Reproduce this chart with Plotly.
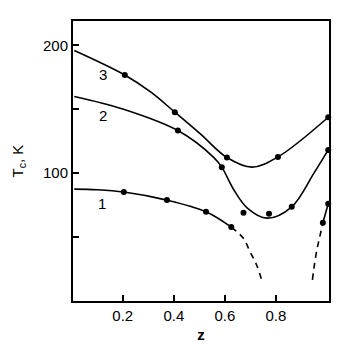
import plotly.graph_objects as go

# Curve lines (key points)
c3_x = [0.01, 0.208, 0.309, 0.404, 0.505, 0.608, 0.707, 0.808, 1.005]
c3_y = [196.0, 176.8, 163.5, 147.7, 130.5, 112.2, 104.7, 112.7, 143.7]

c2_x = [0.01, 0.2, 0.416, 0.557, 0.588, 0.635, 0.688, 0.765, 0.862, 0.949, 1.005]
c2_y = [160.0, 150.2, 133.3, 112.2, 104.7, 87.0, 72.7, 64.8, 73.7, 100.0, 118.2]

c1_solid_x = [0.01, 0.1, 0.204, 0.373, 0.526, 0.625]
c1_solid_y = [87.5, 87.0, 85.2, 78.9, 69.8, 57.8]
c1_dashL_x = [0.625, 0.672, 0.698, 0.724, 0.744]
c1_dashL_y = [57.8, 49.2, 38.8, 28.4, 16.6]
c1_dashR_x = [0.943, 0.952, 0.962, 0.971, 0.984]
c1_dashR_y = [16.6, 29.9, 41.6, 49.5, 61.2]
c1_end_x = [0.984, 1.005]
c1_end_y = [61.2, 76.0]

# Measured points (dots)
d3_x = [0.208, 0.404, 0.608, 0.808, 1.005]
d3_y = [176.8, 147.7, 112.2, 112.7, 143.7]
d2_x = [0.416, 0.588, 0.673, 0.773, 0.862, 1.005]
d2_y = [133.3, 104.7, 69.0, 68.2, 73.7, 118.2]
d1_x = [0.204, 0.373, 0.526, 0.625, 0.984, 1.005]
d1_y = [85.2, 78.9, 69.8, 57.8, 61.2, 76.0]

labels = ["3", "2", "1"]
label_x = [0.123, 0.123, 0.119]
label_y = [175.5, 143.7, 75.2]

x_ticks = [0.2, 0.4, 0.6, 0.8]
x_ticktext = ["0.2", "0.4", "0.6", "0.8"]
y_ticks = [100, 200]
y_minor_ticks = [50, 150]

FONT = "Liberation Sans, Arial, sans-serif"
fig = go.Figure()

def line(x, y, dash="solid"):
    fig.add_trace(go.Scatter(x=x, y=y, mode="lines",
                             line=dict(color="black", width=1.6, dash=dash, shape="spline", smoothing=1.0),
                             showlegend=False, hoverinfo="skip"))

line(c3_x, c3_y)
line(c2_x, c2_y)
line(c1_solid_x, c1_solid_y)
line(c1_dashL_x, c1_dashL_y, dash="6px,5px")
line(c1_dashR_x, c1_dashR_y, dash="6px,5px")
line(c1_end_x, c1_end_y)

for dx, dy in [(d3_x, d3_y), (d2_x, d2_y), (d1_x, d1_y)]:
    fig.add_trace(go.Scatter(x=dx, y=dy, mode="markers",
                             marker=dict(color="black", size=6),
                             showlegend=False, cliponaxis=False))

fig.add_trace(go.Scatter(x=label_x, y=label_y, mode="text", text=labels,
                         textfont=dict(family=FONT, size=15, color="black"),
                         showlegend=False))

fig.update_layout(
    width=357, height=364,
    margin=dict(l=73, r=28, t=21, b=63),
    paper_bgcolor="white", plot_bgcolor="white",
    font=dict(family=FONT, size=15, color="black"),
)
fig.update_xaxes(range=[0.005, 1.008], tickvals=x_ticks, ticktext=x_ticktext,
                 ticks="inside", ticklen=6, tickwidth=1.5, tickcolor="black",
                 showline=True, linewidth=2, linecolor="black", mirror=True,
                 showgrid=False, zeroline=False,
                 title=dict(text="<b>z</b>", standoff=6, font=dict(size=15)))
fig.update_yaxes(range=[0, 219], tickvals=y_ticks,
                 ticks="inside", ticklen=6, tickwidth=1.5, tickcolor="black",
                 minor=dict(tickvals=y_minor_ticks, ticks="inside", ticklen=6,
                            tickwidth=1.5, tickcolor="black", showgrid=False),
                 showline=True, linewidth=2, linecolor="black", mirror=True,
                 showgrid=False, zeroline=False,
                 title=dict(text="T<sub>c</sub>, K", standoff=16, font=dict(size=15)))

fig.write_html("out.html")
